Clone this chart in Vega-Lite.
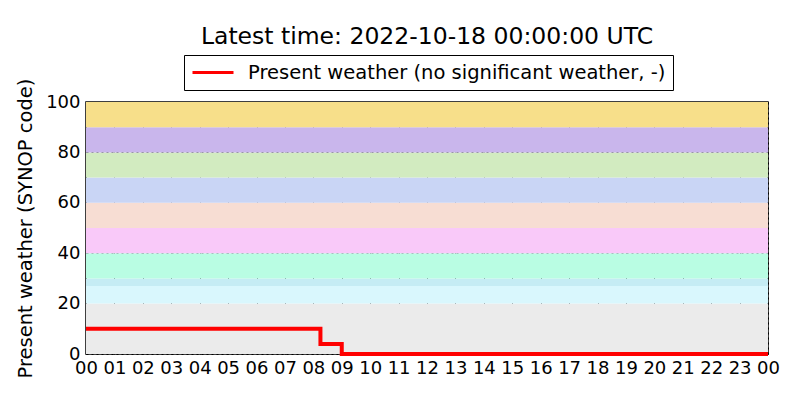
{
  "$schema": "https://vega.github.io/schema/vega-lite/v6.json",
  "width": 682,
  "height": 252,
  "autosize": "none",
  "padding": {"left": 86, "top": 102, "right": 32, "bottom": 46},
  "background": "white",
  "title": {
    "text": "Latest time: 2022-10-18 00:00:00 UTC",
    "fontSize": 23.5,
    "fontWeight": "normal",
    "font": "DejaVu Sans",
    "color": "black",
    "anchor": "middle",
    "offset": 6
  },
  "config": {
    "font": "DejaVu Sans",
    "view": {"stroke": "black", "strokeWidth": 1.5},
    "axis": {
      "labelFont": "DejaVu Sans",
      "labelFontSize": 18,
      "labelColor": "black",
      "titleFont": "DejaVu Sans",
      "titleFontSize": 19.5,
      "titleFontWeight": "normal",
      "titleColor": "black",
      "grid": true,
      "gridColor": "black",
      "gridDash": [2, 3],
      "gridWidth": 1,
      "gridOpacity": 1,
      "domain": false,
      "ticks": false,
      "zindex": 1
    },
    "legend": {
      "orient": "none",
      "legendX": 98,
      "legendY": -47,
      "strokeColor": "black",
      "fillColor": "white",
      "padding": 7,
      "labelFont": "DejaVu Sans",
      "labelFontSize": 19.5,
      "labelColor": "black",
      "labelLimit": 600,
      "labelOffset": 13,
      "symbolType": "stroke",
      "symbolStrokeWidth": 3,
      "symbolSize": 1681,
      "clipHeight": 21,
      "title": null
    }
  },
  "layer": [
    {
      "data": {
        "values": [
          {"lo": 0, "hi": 20, "c": "#ebebeb"},
          {"lo": 20, "hi": 27, "c": "#d9f7fd"},
          {"lo": 27, "hi": 30, "c": "#c5ecf4"},
          {"lo": 30, "hi": 40, "c": "#b9fde3"},
          {"lo": 40, "hi": 50, "c": "#f9c9f9"},
          {"lo": 50, "hi": 60, "c": "#f7ddd3"},
          {"lo": 60, "hi": 70, "c": "#c9d5f5"},
          {"lo": 70, "hi": 80, "c": "#d2ebc0"},
          {"lo": 80, "hi": 90, "c": "#c9b6ec"},
          {"lo": 90, "hi": 100, "c": "#f7df8a"}
        ]
      },
      "mark": {"type": "rect"},
      "encoding": {
        "y": {
          "field": "lo",
          "type": "quantitative",
          "scale": {"domain": [0, 100], "nice": false},
          "axis": {"values": [0, 20, 40, 60, 80, 100], "labelPadding": 6, "titlePadding": 10},
          "title": "Present weather (SYNOP code)"
        },
        "y2": {"field": "hi"},
        "fill": {"field": "c", "type": "nominal", "scale": null, "legend": null}
      }
    },
    {
      "data": {
        "values": [
          {"hour": 0, "ww": 10},
          {"hour": 8.25, "ww": 4},
          {"hour": 9, "ww": 0},
          {"hour": 24, "ww": 0}
        ]
      },
      "mark": {"type": "line", "interpolate": "step-after", "strokeWidth": 4, "clip": false},
      "encoding": {
        "x": {
          "field": "hour",
          "type": "quantitative",
          "scale": {"domain": [0, 24], "nice": false},
          "axis": {
            "values": [0, 1, 2, 3, 4, 5, 6, 7, 8, 9, 10, 11, 12, 13, 14, 15, 16, 17, 18, 19, 20, 21, 22, 23, 24],
            "labelExpr": "(datum.value % 24 < 10 ? '0' : '') + (datum.value % 24)",
            "labelOverlap": false,
            "labelFlush": false,
            "labelPadding": 5
          },
          "title": null
        },
        "y": {
          "field": "ww",
          "type": "quantitative",
          "title": "Present weather (SYNOP code)"
        },
        "stroke": {
          "datum": "Present weather (no significant weather, -)",
          "type": "nominal",
          "scale": {"range": ["#ff0000"]}
        }
      }
    }
  ]
}
